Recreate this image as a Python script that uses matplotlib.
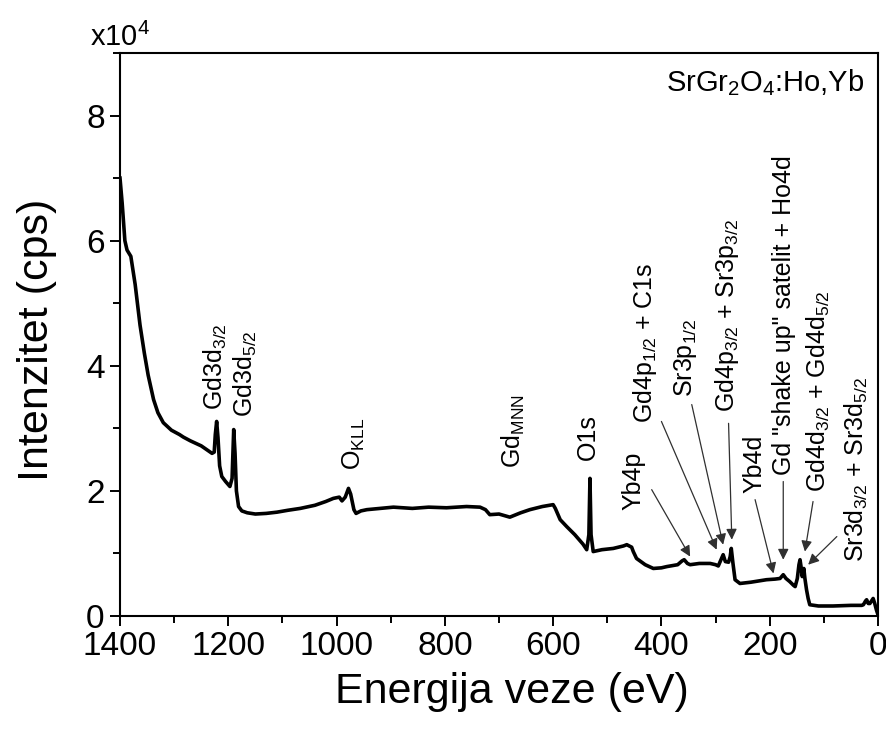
import matplotlib
matplotlib.use("Agg")
import matplotlib.pyplot as plt
from matplotlib.ticker import MultipleLocator

plt.rcParams["font.family"] = ["Liberation Sans", "DejaVu Sans"]
plt.rcParams["mathtext.fontset"] = "custom"
plt.rcParams["mathtext.rm"] = "Liberation Sans"
plt.rcParams["mathtext.it"] = "Liberation Sans:italic"
plt.rcParams["mathtext.bf"] = "Liberation Sans:bold"

# XPS survey spectrum: binding energy (eV) and intensity (x10^4 cps)
energy = [1400, 1396, 1391, 1387, 1380, 1372, 1363, 1355, 1348, 1338, 1330, 1320,
          1305, 1290, 1283, 1270, 1260, 1250, 1240, 1230, 1226,
          1224, 1221.5, 1219, 1216, 1212, 1205, 1197, 1193, 1190, 1187.5, 1185,
          1181, 1175, 1165, 1150, 1130, 1110, 1090, 1067, 1040, 1020, 1006, 995,
          990, 984, 978, 974, 968, 964, 955, 944, 920, 895, 860, 830, 797, 760,
          735, 725, 717, 700, 680, 660, 643, 620, 600, 596, 587, 575, 560, 545,
          538, 534, 532, 530, 526, 510, 489, 470, 464, 455, 452, 446, 430, 415,
          400, 390, 370, 362, 358, 352, 347, 330, 310, 300, 295, 290, 286, 282,
          276, 273, 271, 268, 264, 255, 235, 220, 206, 190, 181, 177, 175, 170,
          163, 156, 153, 149, 146, 144, 142, 140, 138, 137, 135, 132, 129, 126,
          110, 83, 50, 30, 27, 23, 21, 18, 15, 12, 9, 6, 3, 0]
intensity = [7.0, 6.6, 6.0, 5.85, 5.75, 5.3, 4.65, 4.2, 3.85, 3.46, 3.25, 3.09,
             2.97, 2.90, 2.86, 2.80, 2.76, 2.72, 2.66, 2.60, 2.62,
             2.9, 3.11, 2.85, 2.4, 2.23, 2.15, 2.07, 2.2, 2.98, 2.6, 2.0,
             1.75, 1.68, 1.65, 1.63, 1.64, 1.66, 1.69, 1.72, 1.77, 1.83, 1.88, 1.90,
             1.84, 1.90, 2.04, 1.95, 1.70, 1.64, 1.68, 1.70, 1.72, 1.74, 1.72, 1.74, 1.73, 1.75,
             1.74, 1.70, 1.62, 1.63, 1.58, 1.65, 1.70, 1.75, 1.78, 1.72, 1.54, 1.43, 1.30, 1.15,
             1.06, 1.3, 2.20, 1.3, 1.03, 1.06, 1.08, 1.12, 1.14, 1.10, 1.03, 0.92, 0.82, 0.76,
             0.77, 0.79, 0.82, 0.88, 0.90, 0.84, 0.82, 0.84, 0.84, 0.82, 0.80, 0.90, 0.98, 0.87,
             0.86, 0.95, 1.08, 0.85, 0.58, 0.52, 0.54, 0.56, 0.58, 0.59, 0.60, 0.64, 0.66, 0.60,
             0.55, 0.49, 0.47, 0.60, 0.82, 0.90, 0.78, 0.63, 0.70, 0.76, 0.60, 0.42, 0.28, 0.18,
             0.16, 0.16, 0.17, 0.17, 0.18, 0.24, 0.26, 0.20, 0.20, 0.24, 0.28, 0.20, 0.10, 0.02]

# Peak labels: text, x (eV), y bottom of label
peak_labels = ["Gd3d$_{3/2}$", "Gd3d$_{5/2}$", "O$_\\mathregular{KLL}$",
               "Gd$_\\mathregular{MNN}$", "O1s"]
peak_label_x = [1224, 1169, 968, 674, 536]
peak_label_y = [3.3, 3.18, 2.34, 2.37, 2.5]

# Arrow-annotated labels: text, label position, arrow start and arrow tip
arrow_labels = ["Yb4p", "Gd4p$_{1/2}$ + C1s", "Sr3p$_{1/2}$",
                "Gd4p$_{3/2}$ + Sr3p$_{3/2}$", "Yb4d",
                'Gd "shake up" satelit + Ho4d',
                "Gd4d$_{3/2}$ + Gd4d$_{5/2}$", "Sr3d$_{3/2}$ + Sr3d$_{5/2}$"]
arrow_label_x = [451, 430, 355, 279, 229, 174, 111, 40]
arrow_label_y = [1.70, 3.09, 3.5, 3.26, 1.97, 2.26, 1.98, 0.86]
arrow_start_x = [418, 400, 344, 276, 227, 175, 120, 76]
arrow_start_y = [2.02, 3.11, 3.38, 3.08, 1.86, 2.15, 1.83, 1.27]
arrow_end_x = [347, 298, 286, 270, 193, 175, 135, 129]
arrow_end_y = [0.95, 1.06, 1.14, 1.22, 0.68, 0.90, 1.03, 0.82]

x_ticks = [1400, 1200, 1000, 800, 600, 400, 200, 0]
y_ticks = [0, 2, 4, 6, 8]

fig = plt.figure(figsize=(8.87, 7.31), dpi=100)
ax = fig.add_axes([120 / 887, 1 - 616 / 731, 758 / 887, 563 / 731])

ax.plot(energy, intensity, color="black", lw=2.6, solid_joinstyle="round")

ax.set_xlim(1400, 0)
ax.set_ylim(0, 9)
ax.set_xticks(x_ticks)
ax.set_yticks(y_ticks)
ax.xaxis.set_minor_locator(MultipleLocator(100))
ax.yaxis.set_minor_locator(MultipleLocator(1))
ax.tick_params(which="both", direction="out", top=False, right=False,
               width=1.4, labelsize=24)
ax.tick_params(which="major", length=7, pad=4)
ax.tick_params(which="minor", length=5)
for s in ax.spines.values():
    s.set_linewidth(1.5)

ax.set_xlabel("Energija veze (eV)", fontsize=31)
ax.set_ylabel("Intenzitet (cps)", fontsize=31)
ax.xaxis.set_label_coords(0.517, -0.10)
ax.yaxis.set_label_coords(-0.083, 0.49)

fig.text(90 / 887, 1 - 46 / 731, "x10$^{4}$", fontsize=21, ha="left", va="baseline")

ax.text(0.982, 0.975, "SrGr$_2$O$_4$:Ho,Yb", transform=ax.transAxes,
        fontsize=21, ha="right", va="top")

for t, x, y in zip(peak_labels, peak_label_x, peak_label_y):
    ax.text(x, y, t, rotation=90, fontsize=18, ha="center", va="bottom")

for t, lx, ly, sx, sy, ex, ey in zip(arrow_labels, arrow_label_x, arrow_label_y,
                                     arrow_start_x, arrow_start_y,
                                     arrow_end_x, arrow_end_y):
    ax.text(lx, ly, t, rotation=90, fontsize=18, ha="center", va="bottom")
    ax.annotate("", xy=(ex, ey), xytext=(sx, sy),
                arrowprops=dict(arrowstyle="-|>", color="#303030", lw=0.9,
                                mutation_scale=16, shrinkA=0, shrinkB=0))

fig.savefig("out.png", dpi=100)
